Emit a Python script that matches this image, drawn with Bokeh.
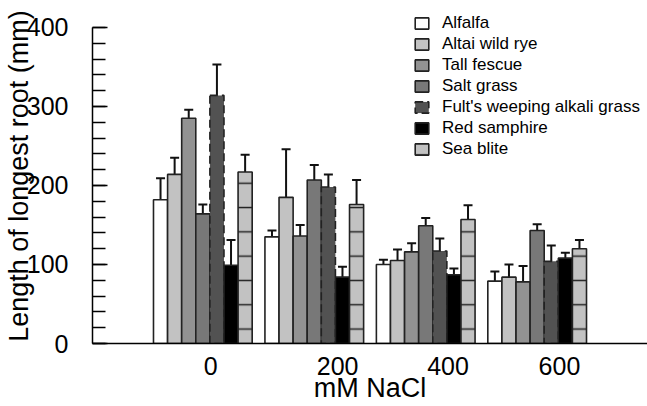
from bokeh.plotting import figure
from bokeh.models import FixedTicker, Whisker, TeeHead, ColumnDataSource, Legend, LegendItem
from bokeh.embed import file_html
from bokeh.resources import INLINE

# ---- data ----
groups = ["0", "200", "400", "600"]
species = ["Alfalfa", "Altai wild rye", "Tall fescue", "Salt grass",
           "Fult's weeping alkali grass", "Red samphire", "Sea blite"]
alfalfa = [182, 135, 100, 79]
altai = [214, 185, 105, 84]
tall_fescue = [285, 136, 116, 78]
saltgrass = [164, 207, 149, 143]
fults = [314, 198, 117, 104]
red_samphire = [99, 84, 87, 108]
sea_blite = [217, 176, 157, 120]
alfalfa_err = [27, 8, 6, 12]
altai_err = [21, 61, 14, 16]
tall_fescue_err = [11, 14, 11, 20]
saltgrass_err = [12, 19, 10, 8]
fults_err = [39, 16, 16, 20]
red_samphire_err = [32, 13, 8, 7]
sea_blite_err = [22, 31, 18, 11]

means = [alfalfa, altai, tall_fescue, saltgrass, fults, red_samphire, sea_blite]
errs = [alfalfa_err, altai_err, tall_fescue_err, saltgrass_err, fults_err,
        red_samphire_err, sea_blite_err]

# ---- styles ----
fills = ["#ffffff", "#c2c2c2", "#929292", "#787878", "#525252", "#000000", "#c2c2c2"]
dashes = ["solid", "solid", "solid", "solid", "8 4", "solid", "solid"]
hatches = [None, None, None, None, None, None, "horizontal_line"]
bar_w = 0.1265
label_shift = [0.07, 0.21, 0.2, 0.2]
FONT = "Liberation Sans"

p = figure(width=647, height=406, output_backend="svg", toolbar_location=None,
           x_range=(-0.99, 3.99), y_range=(0, 424),
           min_border_left=92, min_border_right=0, min_border_top=8,
           min_border_bottom=63)
p.outline_line_color = None
p.xgrid.visible = False
p.ygrid.visible = False
p.background_fill_color = "white"

items = []
for i, name in enumerate(species):
    xs = [g + (i - 3) * bar_w for g in range(len(groups))]
    tops = means[i]
    uppers = [m + e for m, e in zip(tops, errs[i])]
    src = ColumnDataSource(dict(x=xs, top=tops, upper=uppers))
    kw = {}
    if hatches[i]:
        kw = dict(hatch_pattern=hatches[i], hatch_scale=24.3, hatch_color="#222222",
                  hatch_weight=1.5)
    r = p.vbar(x="x", top="top", bottom=0, width=bar_w, source=src,
               fill_color=fills[i], line_color="#222222", line_width=1.6,
               line_dash=dashes[i], **kw)
    w = Whisker(base="x", lower="top", upper="upper", source=src,
                line_color="#111111", line_width=2,
                upper_head=TeeHead(size=9, line_width=2, line_color="#111111"),
                lower_head=None, level="underlay")
    p.add_layout(w)
    items.append(LegendItem(label=name, renderers=[r]))

legend = Legend(items=items, location=(321, 184), padding=0, margin=0,
                border_line_color=None, background_fill_alpha=0,
                label_text_font=FONT, label_text_font_size="17px",
                label_text_color="black",
                glyph_width=17, glyph_height=14, label_height=14,
                label_standoff=12, spacing=1)
p.add_layout(legend, "center")

# y axis
p.yaxis.bounds = (0, 400)
p.yaxis.ticker = FixedTicker(ticks=[0, 100, 200, 300, 400],
                             minor_ticks=list(range(0, 401, 20)))
p.yaxis.major_tick_in = 15
p.yaxis.major_tick_out = 0
p.yaxis.minor_tick_in = 13
p.yaxis.minor_tick_out = 0
p.yaxis.major_tick_line_width = 1.5
p.yaxis.minor_tick_line_width = 1.5
p.yaxis.axis_line_width = 1.5
p.yaxis.major_label_text_font = FONT
p.yaxis.major_label_text_font_size = "25px"
p.yaxis.major_label_text_color = "black"
p.yaxis.major_label_standoff = 24
p.yaxis.axis_label = "Length of longest root (mm)"
p.yaxis.axis_label_text_font = FONT
p.yaxis.axis_label_text_font_size = "27px"
p.yaxis.axis_label_text_font_style = "normal"
p.yaxis.axis_label_text_color = "black"
p.yaxis.axis_label_standoff = -10

# x axis
ticks = [g + s for g, s in zip(range(len(groups)), label_shift)]
p.xaxis.ticker = FixedTicker(ticks=ticks)
p.xaxis.major_label_overrides = {t: lab for t, lab in zip(ticks, groups)}
p.xaxis.major_tick_in = 0
p.xaxis.major_tick_out = 0
p.xaxis.minor_tick_line_color = None
p.xaxis.axis_line_width = 1.5
p.xaxis.major_label_text_font = FONT
p.xaxis.major_label_text_font_size = "25px"
p.xaxis.major_label_text_color = "black"
p.xaxis.major_label_standoff = 13
p.xaxis.axis_label = "mM NaCl"
p.xaxis.axis_label_text_font = FONT
p.xaxis.axis_label_text_font_size = "27px"
p.xaxis.axis_label_text_font_style = "normal"
p.xaxis.axis_label_text_color = "black"
p.xaxis.axis_label_standoff = -5

open("out.html", "w").write(file_html(p, INLINE))
